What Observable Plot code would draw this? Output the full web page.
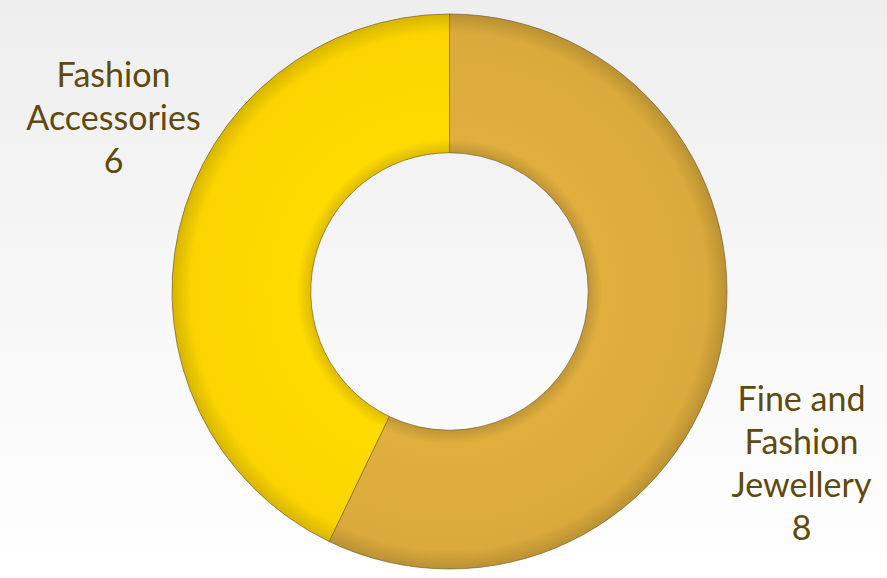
<!DOCTYPE html>
<html>
<head>
<meta charset="utf-8">
<script src="https://cdn.jsdelivr.net/npm/d3@7"></script>
<script src="https://cdn.jsdelivr.net/npm/@observablehq/plot@0.6"></script>
<style>
  html, body { margin: 0; padding: 0; }
  body { width: 887px; height: 578px; background: linear-gradient(#eeeeee, #ffffff); overflow: hidden; }
  #chart svg { display: block; background: transparent; }
</style>
</head>
<body>
<div id="chart"></div>
<script>
const categories = ["Fine and Fashion Jewellery", "Fashion Accessories"];
const values = [8, 6];
const labelTexts = ["Fine and\nFashion\nJewellery\n8", "Fashion\nAccessories\n6"];
const colors = ["#DAAA3C", "#FCD500"];

const W = 887, H = 578;
const cx = 449.5, cy = 291.5, R = 277.5, innerRatio = 0.5;

const data = categories.map((c, i) => ({ category: c, value: values[i], label: labelTexts[i], color: colors[i] }));
const pie = d3.pie().value(d => d.value).sort(null)(data);

// label anchor positions (pixel layout -> data units)
const labelLayout = { "Fine and Fashion Jewellery": [801, 380], "Fashion Accessories": [113, 56] };
const labels = data.map(d => ({
  text: d.label,
  x: (labelLayout[d.category][0] - cx) / R,
  y: (cy - labelLayout[d.category][1]) / R
}));

function donut(index, scales) {
  const x = scales.x, y = scales.y;
  const ox = x(0), oy = y(0);
  const rad = x(1) - x(0);
  const arc = d3.arc().innerRadius(rad * innerRatio).outerRadius(rad);
  const g = d3.create("svg:g").attr("transform", `translate(${ox},${oy})`);
  const defs = g.append("defs");
  pie.forEach((p, i) => {
    const gr = defs.append("radialGradient").attr("id", "rg" + i)
      .attr("gradientUnits", "userSpaceOnUse").attr("cx", 0).attr("cy", 0).attr("r", rad);
    const base = d3.color(p.data.color);
    gr.append("stop").attr("offset", innerRatio).attr("stop-color", base.darker(0.35));
    gr.append("stop").attr("offset", innerRatio + 0.05).attr("stop-color", base.brighter(0.08));
    gr.append("stop").attr("offset", 0.93).attr("stop-color", base);
    gr.append("stop").attr("offset", 1).attr("stop-color", base.darker(0.45));
  });
  g.selectAll("path").data(pie).join("path")
    .attr("d", arc)
    .attr("fill", (d, i) => `url(#rg${i})`)
    .attr("stroke", "#6b5a2a")
    .attr("stroke-width", 0.8)
    .attr("stroke-opacity", 0.8);
  return g.node();
}

const plot = Plot.plot({
  width: W,
  height: H,
  margin: 0,
  x: { domain: [-cx / R, (W - cx) / R], range: [0, W], axis: null },
  y: { domain: [-(H - cy) / R, cy / R], range: [H, 0], axis: null },
  style: { background: "transparent" },
  marks: [
    donut,
    Plot.text(labels, {
      x: "x", y: "y", text: "text",
      lineAnchor: "top",
      lineHeight: 1.265,
      fontSize: 34,
      fontFamily: "Lato, 'Open Sans', sans-serif",
      fill: "#5E4A0C",
      textAnchor: "middle"
    })
  ]
});
document.getElementById("chart").appendChild(plot);
</script>
</body>
</html>
